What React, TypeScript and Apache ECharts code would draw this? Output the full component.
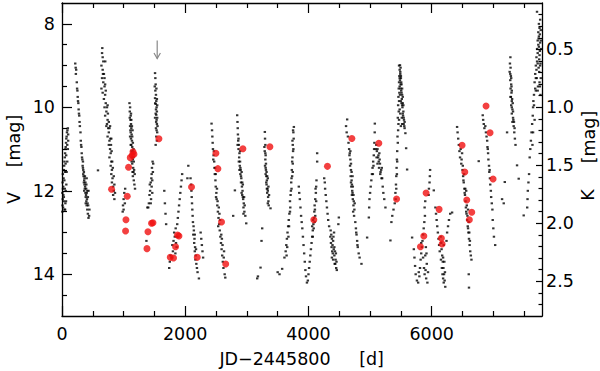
import React, { useEffect, useRef } from "react";
import * as echarts from "echarts";

const X_MAX = 7790;
const V_MIN = 7.5;
const V_MAX = 15;
const K_MIN = 0.1;
const K_MAX = 2.8;

const xMajorTicks = [0, 2000, 4000, 6000];
const xMinorTicks = [500, 1000, 1500, 2500, 3000, 3500, 4500, 5000, 5500, 6500, 7000, 7500];
const vMajorTicks = [8, 10, 12, 14];
const vMinorTicks = [8.5, 9, 9.5, 10.5, 11, 11.5, 12.5, 13, 13.5, 14.5];
const kMajorTicks = [0.5, 1.0, 1.5, 2.0, 2.5];
const kMinorTicks = [0.2, 0.3, 0.4, 0.6, 0.7, 0.8, 0.9, 1.1, 1.2, 1.3, 1.4, 1.6, 1.7, 1.8, 1.9, 2.1, 2.2, 2.3, 2.4, 2.6, 2.7];

// V-band photometry (black dots), [JD-2445800, V] per observing season
const vSeason1 = [[5,12.5],[8,12.35],[12,12.2],[6,12.05],[15,11.95],[10,11.8],[18,12.4],[22,12.1],[25,11.7],[14,11.6],[30,11.5],[20,11.9],[35,11.4],[28,12.25],[40,11.3],[45,11.2],[38,11.75],[50,11.1],[55,11.0],[48,11.55],[60,10.95],[65,10.85],[70,10.75],[75,10.7],[80,10.6],[88,10.55],[95,10.5],[58,11.35],[68,11.15],[85,10.9],[100,10.65],[40,12.45],[55,12.3],[60,12.0],[70,11.85],[30,12.15],[75,11.55],[85,11.3],[95,11.0],[100,10.8],[45,11.95],[65,12.25],[50,12.45]];
const vSeason2 = [[215,8.95],[222,9.05],[225,9.2],[240,9.4],[250,9.6],[255,9.75],[265,9.9],[270,10.05],[280,10.2],[285,10.35],[300,10.6],[305,10.8],[315,10.95],[320,11.1],[330,11.25],[335,11.4],[345,11.5],[350,11.65],[360,11.75],[365,11.85],[370,11.95],[380,12.05],[385,12.15],[395,12.25],[400,12.35],[410,12.45],[420,12.55],[430,12.65],[345,11.6],[355,11.8],[375,11.9],[390,12.1],[405,12.2],[415,12.3],[365,11.7],[340,11.45],[372,11.65],[392,11.95],[402,12.05],[420,12.15],[440,12.6],[230,9.1],[245,9.55],[260,9.85],[275,10.15],[290,10.45],[310,10.9],[325,11.2],[340,11.3],[355,11.55],[380,11.8],[395,11.85],[410,12.0],[425,12.35],[445,12.45],[360,12.0],[385,12.3],[400,11.7],[430,12.0]];
const vSeason3 = [[654,8.58],[650,8.7],[660,8.8],[670,8.9],[640,9.0],[660,9.1],[680,9.2],[650,9.3],[670,9.4],[690,9.5],[640,9.55],[660,9.65],[700,9.7],[680,9.8],[710,9.9],[690,10.0],[720,10.1],[700,10.2],[740,10.3],[730,10.4],[750,10.5],[760,10.6],[740,10.7],[770,10.8],[760,10.9],[780,11.0],[790,11.1],[770,11.2],[800,11.3],[790,11.4],[810,11.5],[800,11.6],[820,11.7],[810,11.8],[830,11.9],[840,12.0],[830,12.1],[850,12.2],[584,11.51],[740,9.95],[720,10.45],[702,8.9],[665,9.2],[690,9.3],[700,9.45],[710,9.6],[730,10.0],[745,10.15],[760,10.35],[770,10.5],[785,10.75],[795,10.9],[805,11.05],[815,11.3],[825,11.45],[840,11.65],[850,11.85],[860,12.05],[780,10.45],[800,10.75]];
const vSeason4 = [[985,12.5],[990,12.35],[1000,12.2],[1010,12.05],[1020,12.3],[1000,12.45],[1025,11.95],[1095,9.9],[1105,10.0],[1100,10.1],[1115,10.2],[1110,10.3],[1120,10.4],[1105,10.45],[1125,10.5],[1115,10.6],[1130,10.65],[1120,10.75],[1135,10.8],[1125,10.9],[1140,10.95],[1130,11.05],[1145,11.1],[1135,11.2],[1150,11.25],[1140,11.35],[1155,11.45],[1160,11.55],[1150,11.65],[1165,11.75],[1175,11.85],[1185,11.95],[1110,10.55],[1140,10.7],[1160,11.0],[1100,10.25],[1125,10.3],[1120,10.15],[1135,10.45],[1145,10.55],[1150,10.85],[1155,11.05],[1165,11.3],[1170,11.5],[1160,11.2],[1180,11.6],[1105,10.7],[1115,10.9],[1130,11.3],[1145,11.55]];
const vSeason5 = [[1510,9.18],[1515,9.3],[1520,9.45],[1515,9.6],[1525,9.7],[1510,9.78],[1530,9.85],[1520,9.92],[1535,10.0],[1525,10.05],[1540,10.1],[1530,10.18],[1545,10.25],[1535,10.3],[1540,10.4],[1525,10.5],[1545,10.6],[1530,10.7],[1540,10.8],[1520,10.9],[1470,11.3],[1460,11.45],[1475,11.55],[1450,11.7],[1440,11.8],[1455,11.9],[1430,12.0],[1420,12.1],[1445,12.2],[1410,12.3],[1400,12.4],[1370,13.2],[1480,11.35],[1465,11.75],[1505,9.5],[1512,9.9],[1520,10.15],[1528,10.35],[1535,10.55],[1510,10.25],[1545,9.95],[1550,10.45],[1532,9.55],[1540,9.8],[1455,11.6],[1440,12.3],[1425,11.85],[1465,12.05],[1385,12.4]];
const vSeason6 = [[1660,12.0],[1670,12.3],[1680,12.55],[1690,12.8],[1740,13.85],[1750,13.7],[1760,13.55],[1780,13.6],[1800,13.45],[1790,13.3],[1810,13.2],[1830,13.1],[1820,13.0],[1845,12.9],[1850,13.25],[1860,13.35],[1840,13.5],[1870,12.8],[1880,12.65],[1890,12.5],[1900,12.35],[1910,12.2],[1920,12.05],[1930,11.9],[1940,11.75],[1950,11.6],[2050,11.4],[1870,13.1],[2035,11.7]];
const vSeason7 = [[2086,11.7],[2095,11.85],[2100,12.0],[2105,12.15],[2110,12.3],[2115,12.45],[2120,12.6],[2125,12.75],[2135,12.85],[2140,12.95],[2130,13.05],[2150,13.15],[2145,13.25],[2160,13.35],[2155,13.45],[2170,13.55],[2165,13.65],[2180,13.75],[2190,13.85],[2200,13.95],[2222,14.1],[2250,13.0],[2260,13.15],[2270,13.3],[2280,13.45],[2290,13.6],[2155,13.05],[2175,13.4]];
const vSeason8 = [[2427,10.39],[2435,10.55],[2440,10.7],[2445,10.85],[2450,11.0],[2460,11.15],[2470,11.3],[2475,11.45],[2480,11.6],[2490,11.75],[2495,11.9],[2505,12.05],[2510,12.2],[2520,12.35],[2530,12.5],[2540,12.65],[2550,12.8],[2560,12.95],[2570,13.1],[2580,13.25],[2590,13.4],[2600,13.55],[2610,13.7],[2620,13.85],[2640,14.0],[2650,14.08],[2500,12.15],[2535,12.85],[2455,11.25],[2465,11.05],[2485,11.45],[2495,11.6],[2515,11.95],[2525,12.25],[2545,12.4],[2555,12.55],[2565,12.7],[2585,13.05],[2595,13.15],[2605,13.3],[2625,13.6],[2630,13.45]];
const vSeason9 = [[2843,10.19],[2848,10.35],[2852,10.5],[2855,10.65],[2860,10.8],[2870,10.9],[2865,11.0],[2880,11.1],[2875,11.2],[2890,11.3],[2885,11.4],[2900,11.5],[2895,11.6],[2910,11.7],[2905,11.8],[2920,11.9],[2930,12.0],[2925,12.1],[2940,12.2],[2950,12.3],[2945,12.4],[2960,12.5],[2975,12.6],[2990,12.78],[2778,12.6],[2806,11.99],[2915,11.55],[2935,11.85],[2850,10.9],[2865,10.75],[2870,11.3],[2880,11.5],[2895,11.45],[2905,11.65],[2915,12.05],[2925,11.8],[2935,12.15],[2955,12.15],[2945,12.55],[2965,12.35],[2890,11.05]];
const vSeason10 = [[3292,10.59],[3295,10.75],[3300,10.9],[3290,11.05],[3305,11.15],[3300,11.25],[3310,11.35],[3305,11.45],[3320,11.55],[3315,11.65],[3325,11.75],[3320,11.85],[3335,11.95],[3330,12.05],[3345,12.15],[3350,12.25],[3384,12.42],[3249,12.9],[3238,13.2],[3222,13.84],[3168,14.1],[3180,14.05],[3340,11.7],[3360,12.1],[3285,10.95],[3300,11.1],[3295,11.4],[3310,11.5],[3315,11.8],[3325,11.95],[3330,11.65],[3340,12.0],[3350,11.9],[3340,12.3],[3355,12.35],[3305,11.6]];
const vSeason11 = [[3763,10.47],[3755,10.6],[3760,10.75],[3745,10.9],[3750,11.05],[3740,11.2],[3745,11.35],[3730,11.5],[3735,11.65],[3720,11.8],[3725,11.95],[3710,12.1],[3700,12.25],[3705,12.4],[3690,12.55],[3680,12.7],[3670,12.85],[3660,13.0],[3650,13.15],[3640,13.3],[3630,13.45],[3610,13.6],[3573,13.87],[3530,14.0],[3500,13.95],[3750,10.55],[3740,10.8],[3755,11.0],[3735,11.3],[3745,11.55],[3725,11.7],[3715,12.0],[3700,12.5],[3685,12.85],[3675,13.1],[3655,13.35],[3645,13.55]];
const vSeason12 = [[3843,11.9],[3850,12.05],[3860,12.2],[3870,12.4],[3880,12.6],[3890,12.75],[3900,12.9],[3910,13.1],[3920,13.3],[3930,13.5],[3940,13.7],[3950,13.9],[3960,14.05],[3975,14.2],[3990,14.15]];
const vSeason13 = [[4000,14.0],[4010,13.85],[4020,13.7],[4030,13.55],[4040,13.4],[4050,13.25],[4060,13.1],[4070,12.95],[4080,12.8],[4090,12.65],[4095,12.5],[4100,12.35],[4110,12.2],[4120,12.05],[4125,11.9],[4130,11.75],[4141,11.3],[4141,11.1],[4075,12.7],[4105,12.45],[4060,12.85],[4115,11.95],[4070,13.1],[4085,12.9],[4100,12.75],[4110,12.6],[4125,12.25]];
const vSeason14 = [[4255,11.7],[4265,11.8],[4270,11.95],[4280,12.1],[4290,12.25],[4300,12.4],[4310,12.55],[4320,12.7],[4335,12.85],[4360,12.95],[4370,13.05],[4380,13.15],[4365,13.25],[4390,13.3],[4400,13.2],[4410,13.4],[4395,13.5],[4420,13.55],[4430,13.45],[4440,13.65],[4425,13.75],[4450,13.85],[4460,13.9],[4405,13.1],[4493,12.64],[4485,12.8],[4380,13.6],[4415,13.0],[4355,13.1],[4375,13.35],[4385,13.45],[4400,13.65],[4420,13.35],[4435,13.75],[4445,13.5],[4455,13.7]];
const vSeason15 = [[4628,10.29],[4610,10.45],[4620,10.6],[4640,10.7],[4650,10.85],[4660,11.0],[4670,11.1],[4680,11.25],[4675,11.4],[4690,11.5],[4685,11.65],[4700,11.75],[4695,11.9],[4710,12.0],[4705,12.1],[4720,12.2],[4730,12.35],[4725,12.5],[4740,12.6],[4760,12.75],[4770,12.9],[4780,13.05],[4790,13.2],[4800,13.35],[4815,13.5],[4830,13.6],[4860,13.75],[4952,13.12],[4690,11.8],[4715,12.05],[4665,11.15],[4680,11.05],[4690,11.35],[4700,11.55],[4705,11.85],[4715,11.65],[4720,11.9],[4730,12.1],[4735,12.25],[4745,12.45],[4750,12.3],[4775,13.0],[4795,13.3]];
const vSeason16 = [[4980,12.64],[4985,12.4],[4990,12.2],[5000,12.05],[5010,11.9],[5020,11.75],[5030,11.6],[5040,11.45],[5050,11.3],[5060,11.15],[5065,11.0],[5070,10.85],[5075,10.6],[5077,10.39],[5100,10.9],[5110,11.05],[5120,11.0],[5130,11.2],[5150,11.1],[5160,11.35],[5180,11.5],[5196,11.7],[5205,11.9],[5215,12.05],[5230,12.2],[5249,12.4],[5140,11.3],[5170,11.55],[5090,11.0],[5105,11.2],[5120,11.35],[5135,11.15],[5145,11.45],[5155,11.25],[5165,11.6],[5185,11.7],[5190,11.45],[5045,11.6],[5055,11.4]];
const vSeason17 = [[5346,12.75],[5360,12.6],[5380,12.45],[5400,12.3],[5411,12.05],[5420,11.85],[5425,11.65],[5430,11.45],[5435,11.25],[5440,11.05],[5450,10.85],[5445,10.7],[5455,10.55],[5460,10.4],[5450,10.25],[5465,10.1],[5455,9.95],[5470,9.85],[5460,9.75],[5475,9.65],[5465,9.55],[5480,9.5],[5470,9.4],[5485,9.35],[5475,9.25],[5490,9.2],[5480,9.1],[5495,9.05],[5485,8.99],[5500,9.3],[5510,9.45],[5505,9.6],[5520,9.7],[5515,9.8],[5530,9.9],[5525,10.0],[5540,10.1],[5535,10.2],[5550,10.3],[5545,10.4],[5560,10.5],[5573,10.62],[5585,10.98],[5601,11.49],[5330,13.19],[5495,9.55],[5510,9.9],[5490,10.15],[5470,10.3],[5500,10.45],[5470,9.0],[5490,9.15],[5500,9.25],[5480,9.3],[5505,9.4],[5495,9.45],[5520,9.55],[5510,9.65],[5530,9.75],[5485,9.7],[5500,9.85],[5520,9.95],[5540,9.95],[5530,10.15],[5515,10.25],[5545,10.25],[5555,10.45],[5560,10.35],[5480,10.05],[5520,10.4],[5440,11.3],[5435,11.6],[5425,11.95],[5415,12.2]];
const vSeason18 = [[5682,13.12],[5710,13.4],[5720,13.6],[5730,13.8],[5740,14.0],[5760,14.15],[5780,14.2],[5800,14.05],[5810,13.85],[5820,13.65],[5830,13.5],[5840,13.35],[5850,13.2],[5860,13.05],[5870,12.9],[5880,12.75],[5890,12.6],[5900,13.9],[5910,14.1],[5920,13.75],[5930,14.2],[5940,13.95],[5950,12.1],[5955,11.95],[5965,11.8],[5970,11.65],[5974,11.5],[6034,11.99],[5885,12.4],[5895,12.25],[5790,13.95],[5830,13.25],[5860,13.6],[5875,13.85],[5885,14.0],[5895,13.55],[5905,13.35],[5915,13.5]];
const vSeason19 = [[6060,12.4],[6070,12.55],[6080,12.7],[6090,12.85],[6100,13.0],[6110,13.15],[6120,13.3],[6130,13.45],[6145,13.1],[6155,13.25],[6160,13.4],[6170,13.55],[6180,13.7],[6190,13.85],[6200,14.0],[6210,14.15],[6220,14.3],[6185,13.6],[6195,13.3],[6175,14.0],[6250,13.0],[6265,12.85],[6280,12.7],[6300,12.55],[6331,12.52],[6240,13.2],[6150,13.65],[6165,13.85],[6185,14.1],[6195,14.2],[6205,13.7],[6215,13.95]];
const vSeason20 = [[6412,10.47],[6420,10.6],[6430,10.75],[6440,10.9],[6450,11.05],[6460,11.2],[6480,11.35],[6493,11.1],[6500,11.5],[6510,11.65],[6520,11.8],[6530,11.95],[6540,12.1],[6550,12.25],[6555,12.4],[6565,12.55],[6575,12.7],[6585,12.85],[6595,13.0],[6605,13.15],[6615,13.3],[6625,13.45],[6635,13.55],[6645,13.65],[6601,14.0],[6605,14.32],[6560,12.0],[6590,12.45],[6470,11.0],[6485,11.25],[6505,11.4],[6515,11.75],[6525,11.6],[6535,12.05],[6545,11.95],[6560,12.5],[6570,12.35],[6580,12.6],[6590,12.9],[6600,12.75],[6610,13.0],[6620,13.2]];
const vSeason21 = [[6828,10.19],[6835,10.3],[6845,10.4],[6855,10.5],[6870,10.45],[6880,10.6],[6890,10.7],[6900,10.8],[6905,10.95],[6915,11.1],[6920,11.25],[6930,11.4],[6935,11.55],[6945,11.7],[6950,11.85],[6960,12.0],[6965,12.15],[6975,12.3],[6985,12.45],[6990,12.7],[7000,12.9],[7010,13.1],[7030,13.3],[6763,11.29],[6910,11.0],[6940,11.5]];
const vSeason22 = [[7277,8.8],[7270,8.95],[7280,9.05],[7265,9.15],[7285,9.25],[7275,9.35],[7290,9.45],[7280,9.55],[7295,9.65],[7285,9.75],[7300,9.85],[7290,9.95],[7310,10.05],[7300,10.15],[7320,10.25],[7310,10.35],[7330,10.45],[7340,10.6],[7350,10.75],[7360,10.9],[7385,11.39],[7142,12.2],[7169,12.3],[7186,11.79],[7412,11.71],[7223,10.6],[7275,9.2],[7290,9.3],[7295,9.5],[7300,9.6],[7305,9.8],[7315,9.9],[7300,10.0],[7320,10.1],[7325,10.3],[7335,10.35],[7345,10.5],[7280,9.75]];
const vSeason23 = [[7493,12.59],[7550,12.4],[7555,12.2],[7560,12.0],[7570,11.8],[7580,11.6],[7590,11.2],[7600,11.0],[7610,10.8],[7620,10.6],[7630,10.4],[7640,10.2],[7645,10.0],[7650,9.85],[7660,9.7],[7680,9.55],[7670,9.4],[7690,9.3],[7680,9.2],[7700,9.1],[7690,9.0],[7710,8.9],[7700,8.8],[7720,8.7],[7710,8.6],[7730,8.5],[7720,8.4],[7740,8.3],[7730,8.2],[7750,8.1],[7740,8.0],[7760,7.9],[7709,7.71],[7770,8.15],[7760,8.45],[7775,8.6],[7750,8.75],[7765,8.95],[7745,9.15],[7755,9.5],[7720,9.6],[7740,8.55],[7755,8.65],[7745,8.85],[7760,9.0],[7735,9.05],[7770,9.3],[7750,9.4],[7725,9.5],[7765,9.7],[7735,8.35],[7755,8.25],[7770,8.4],[7720,8.95],[7705,9.3],[7690,9.6],[7660,9.95],[7670,10.3],[7645,10.6],[7635,10.9]];

// K-band photometry (red dots)
const kDays = [804,1032,1038,1059,1080,1108,1140,1152,1168,1573,1453,1476,1395,1379,1757,1810,1843,1875,1898,2102,2195,2498,2530,2589,2657,2936,3374,4087,4308,4704,5142,5430,5909,5872,5817,6120,6157,6169,6493,6537,6569,6650,6611,6882,6947,6996];
const kMags = [1.707,2.067,1.969,1.767,1.517,1.434,1.414,1.383,1.405,1.271,2.000,1.995,2.073,2.219,2.294,2.300,2.202,2.101,2.110,1.687,2.294,1.396,1.529,1.989,2.351,1.357,1.340,1.969,1.509,1.269,1.310,1.791,1.739,2.110,2.202,1.880,2.130,2.179,1.327,1.558,1.799,1.905,1.969,0.988,1.219,1.618];

// arrow marker (data coordinates)
const arrowDay = 1545;
const arrowFrom = 8.4;
const arrowTo = 8.83;

const FONT = "DejaVu Sans";
const FS = 17.5;

const vData = [
  vSeason1, vSeason2, vSeason3, vSeason4, vSeason5, vSeason6, vSeason7, vSeason8,
  vSeason9, vSeason10, vSeason11, vSeason12, vSeason13, vSeason14, vSeason15, vSeason16,
  vSeason17, vSeason18, vSeason19, vSeason20, vSeason21, vSeason22, vSeason23,
].flat();
const kData = kDays.map((d, i) => [d, kMags[i]]);

const lineStyle = { color: "#000", width: 1.3 };
const tickLine = { color: "#000", width: 1.2 };

function xAx(position: string, ticks: number[], len: number, major: boolean, labels: boolean) {
  return {
    type: "value",
    min: 0,
    max: X_MAX,
    position,
    axisLine: { show: major, onZero: false, lineStyle },
    axisTick: { show: true, inside: true, length: len, customValues: ticks, lineStyle: tickLine },
    axisLabel: {
      show: labels,
      customValues: ticks,
      color: "#000",
      fontFamily: FONT,
      fontSize: FS,
      margin: 9,
      formatter: (v: number) => String(v),
    },
    splitLine: { show: false },
  };
}

function yAx(position: string, min: number, max: number, ticks: number[], len: number, major: boolean, labels: boolean, fmt: (v: number) => string, margin: number) {
  return {
    type: "value",
    min,
    max,
    inverse: true,
    position,
    axisLine: { show: major, onZero: false, lineStyle },
    axisTick: { show: true, inside: true, length: len, customValues: ticks, lineStyle: tickLine },
    axisLabel: {
      show: labels,
      customValues: ticks,
      color: "#000",
      fontFamily: FONT,
      fontSize: FS,
      margin,
      formatter: fmt,
    },
    splitLine: { show: false },
  };
}

export default function App() {
  const ref = useRef<HTMLDivElement>(null);
  useEffect(() => {
    if (!ref.current) return;
    const chart = echarts.init(ref.current, null, { renderer: "svg" });
    const fmtInt = (v: number) => String(v);
    const fmtK = (v: number) => v.toFixed(1);
    chart.setOption({
      animation: false,
      backgroundColor: "#fff",
      grid: { left: 62, top: 3, width: 480, height: 313, containLabel: false },
      xAxis: [
        xAx("bottom", xMajorTicks, 10, true, true),
        xAx("bottom", xMinorTicks, 5, false, false),
        xAx("top", xMajorTicks, 10, true, false),
        xAx("top", xMinorTicks, 5, false, false),
      ],
      yAxis: [
        yAx("left", V_MIN, V_MAX, vMajorTicks, 10, true, true, fmtInt, 7),
        yAx("left", V_MIN, V_MAX, vMinorTicks, 5, false, false, fmtInt, 7),
        yAx("right", K_MIN, K_MAX, kMajorTicks, 6, true, true, fmtK, 4),
        yAx("right", K_MIN, K_MAX, kMinorTicks, 3.5, false, false, fmtK, 4),
      ],
      series: [
        {
          type: "scatter",
          xAxisIndex: 0,
          yAxisIndex: 0,
          data: vData,
          symbol: "rect",
          symbolSize: [2.4, 2],
          itemStyle: { color: "#000" },
          silent: true,
        },
        {
          type: "scatter",
          xAxisIndex: 0,
          yAxisIndex: 2,
          data: kData,
          symbol: "circle",
          symbolSize: 7,
          itemStyle: { color: "#f01010" },
          silent: true,
        },
      ],
    });
    const p1 = chart.convertToPixel({ xAxisIndex: 0, yAxisIndex: 0 }, [arrowDay, arrowFrom]) as number[];
    const p2 = chart.convertToPixel({ xAxisIndex: 0, yAxisIndex: 0 }, [arrowDay, arrowTo]) as number[];
    const textStyle = (text: string) => ({
      text,
      fontFamily: FONT,
      fontSize: FS,
      fill: "#000",
      align: "center",
      verticalAlign: "middle",
      textAlign: "center",
      textVerticalAlign: "middle",
    });
    chart.setOption({
      graphic: [
        { type: "line", shape: { x1: p1[0], y1: p1[1], x2: p2[0], y2: p2[1] }, style: { stroke: "#888", lineWidth: 1.2 } },
        {
          type: "polyline",
          shape: { points: [[p2[0] - 3.2, p2[1] - 5.5], [p2[0], p2[1]], [p2[0] + 3.2, p2[1] - 5.5]] },
          style: { stroke: "#888", lineWidth: 1.2, fill: null },
        },
        { type: "text", x: 275, y: 359, style: textStyle("JD\u22122445800") },
        { type: "text", x: 371.5, y: 359, style: textStyle("[d]") },
        { type: "text", x: 14, y: 198, rotation: Math.PI / 2, style: textStyle("V") },
        { type: "text", x: 14, y: 141, rotation: Math.PI / 2, style: textStyle("[mag]") },
        { type: "text", x: 588, y: 195, rotation: Math.PI / 2, style: textStyle("K") },
        { type: "text", x: 589, y: 137, rotation: Math.PI / 2, style: textStyle("[mag]") },
      ],
    });
    return () => chart.dispose();
  }, []);
  return (
    <div
      ref={ref}
      style={{ position: "fixed", left: 0, top: 0, width: 600, height: 371, background: "#fff" }}
    />
  );
}
